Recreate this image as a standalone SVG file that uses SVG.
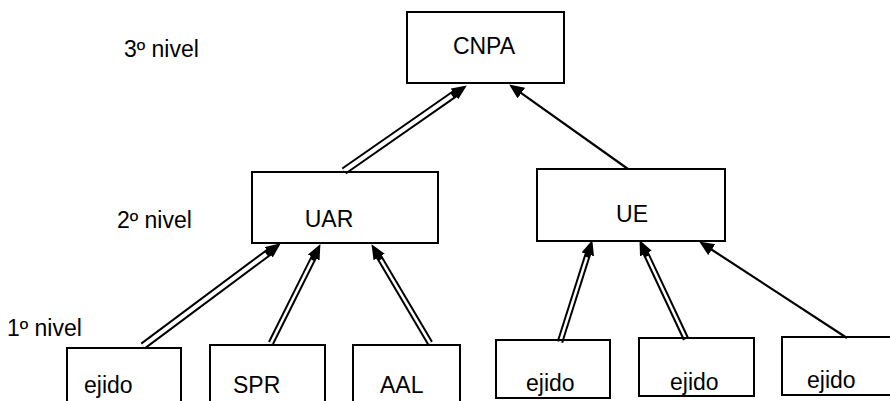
<svg xmlns="http://www.w3.org/2000/svg" width="890" height="401" viewBox="0 0 890 401">
  <style>
    .box { fill: none; stroke: #000; stroke-width: 2; }
    .lbl { font-family: "Liberation Sans", Arial, sans-serif; font-size: 23px; fill: #000; }
    .mid { text-anchor: middle; }
    .rail { stroke: #000; stroke-width: 8; fill: none; marker-end: url(#head); }
    .rail.thin { stroke-width: 6.5; }
    .gap { stroke: #fff; stroke-width: 4; fill: none; }
    .gap.thin { stroke-width: 2.5; }
    .single { stroke: #000; stroke-width: 2.2; fill: none; marker-end: url(#head); }
  </style>
  <defs>
    <marker id="head" markerUnits="userSpaceOnUse" markerWidth="18" markerHeight="14" refX="4" refY="6.5" orient="auto">
      <path d="M0,0 L15,6.5 L0,13 z" fill="#000"/>
    </marker>
  </defs>
  <rect width="890" height="401" fill="#fff"/>

  <!-- level captions -->
  <text class="lbl" x="124" y="57">3º nivel</text>
  <text class="lbl" x="117" y="228">2º nivel</text>
  <text class="lbl" x="7" y="336">1º nivel</text>

  <!-- connectors: double rails drawn as a wide black stroke with a white core -->
  <g id="connectors">
    <line class="rail" x1="344" y1="171" x2="457.8" y2="91.7"/>
    <line class="gap" x1="344" y1="171" x2="452.1" y2="95.7"/>

    <line class="single" x1="628" y1="169" x2="518.1" y2="90.8"/>

    <line class="rail" x1="143" y1="346" x2="272" y2="249.9"/>
    <line class="gap" x1="143" y1="346" x2="266.4" y2="254.1"/>

    <line class="rail thin" x1="271" y1="343" x2="315.5" y2="253.9"/>
    <line class="gap thin" x1="271" y1="343" x2="312.3" y2="260.1"/>

    <line class="rail thin" x1="430" y1="343" x2="377.1" y2="253.6"/>
    <line class="gap thin" x1="430" y1="343" x2="380.7" y2="259.6"/>

    <line class="rail thin" x1="560" y1="342" x2="589" y2="250.5"/>
    <line class="gap thin" x1="560" y1="342" x2="586.9" y2="257.2"/>

    <line class="rail thin" x1="686" y1="339" x2="644.2" y2="250"/>
    <line class="gap thin" x1="686" y1="339" x2="647.2" y2="256.3"/>

    <line class="single" x1="847" y1="338" x2="708.4" y2="247.5"/>
  </g>

  <g id="cnpa">
    <rect class="box" x="407" y="12" width="157" height="71"/>
    <text class="lbl mid" x="484" y="54">CNPA</text>
  </g>
  <g id="uar">
    <rect class="box" x="252" y="172" width="186" height="71"/>
    <text class="lbl mid" x="329" y="227">UAR</text>
  </g>
  <g id="ue">
    <rect class="box" x="537" y="169" width="188" height="72"/>
    <text class="lbl mid" x="632" y="222">UE</text>
  </g>
  <g id="ejido-1">
    <rect class="box" x="67" y="348" width="114" height="60"/>
    <text class="lbl" x="84" y="393">ejido</text>
  </g>
  <g id="spr">
    <rect class="box" x="210" y="345" width="115" height="63"/>
    <text class="lbl" x="233" y="393">SPR</text>
  </g>
  <g id="aal">
    <rect class="box" x="353" y="345" width="107" height="63"/>
    <text class="lbl" x="380" y="393">AAL</text>
  </g>
  <g id="ejido-2">
    <rect class="box" x="496" y="340" width="114" height="58"/>
    <text class="lbl" x="526" y="391">ejido</text>
  </g>
  <g id="ejido-3">
    <rect class="box" x="639" y="338" width="115" height="58"/>
    <text class="lbl" x="670" y="390">ejido</text>
  </g>
  <g id="ejido-4">
    <rect class="box" x="782" y="337" width="112" height="58"/>
    <text class="lbl" x="807" y="388">ejido</text>
  </g>
</svg>
